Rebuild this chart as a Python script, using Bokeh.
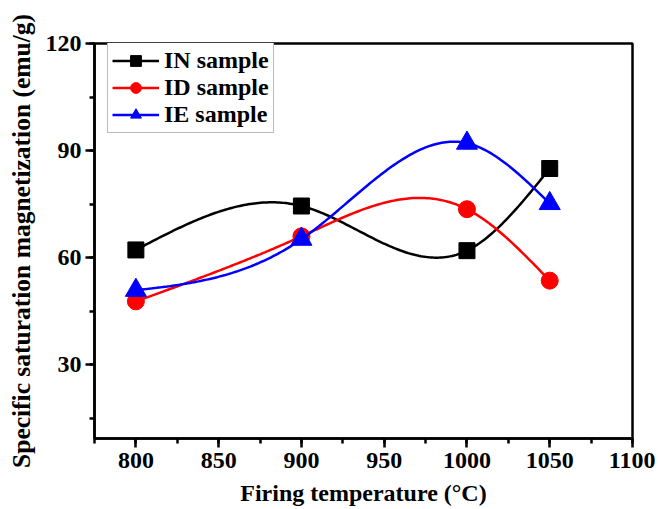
import numpy as np
from bokeh.plotting import figure
from bokeh.models import SingleIntervalTicker, Range1d
from bokeh.embed import file_html
from bokeh.resources import INLINE

# Data
temps = [800, 900, 1000, 1050]
in_sample = [62.2, 74.5, 62.0, 85.0]
id_sample = [47.8, 66.0, 73.6, 53.6]
ie_sample = [50.9, 65.2, 92.1, 75.2]
series_names = ["IN sample", "ID sample", "IE sample"]
series_colors = ["black", "red", "blue"]
series_markers = ["square", "circle", "triangle"]
marker_sizes = [16, 17, 21]


def natural_spline(x, y, n=200):
    x = np.asarray(x, float)
    y = np.asarray(y, float)
    k = len(x)
    h = np.diff(x)
    A = np.zeros((k, k))
    b = np.zeros(k)
    A[0, 0] = 1
    A[-1, -1] = 1
    for i in range(1, k - 1):
        A[i, i - 1] = h[i - 1]
        A[i, i] = 2 * (h[i - 1] + h[i])
        A[i, i + 1] = h[i]
        b[i] = 6 * ((y[i + 1] - y[i]) / h[i] - (y[i] - y[i - 1]) / h[i - 1])
    M = np.linalg.solve(A, b)
    xs = np.linspace(x[0], x[-1], n)
    ys = np.empty_like(xs)
    for j, xv in enumerate(xs):
        i = min(np.searchsorted(x, xv, side="right") - 1, k - 2)
        t1 = x[i + 1] - xv
        t0 = xv - x[i]
        ys[j] = (M[i] * t1 ** 3 / (6 * h[i]) + M[i + 1] * t0 ** 3 / (6 * h[i])
                 + (y[i] / h[i] - M[i] * h[i] / 6) * t1
                 + (y[i + 1] / h[i] - M[i + 1] * h[i] / 6) * t0)
    return xs, ys


FONT = "Liberation Serif"

W, H = 655, 508
p = figure(width=W, height=H, output_backend="svg", toolbar_location=None,
           x_range=Range1d(775, 1100), y_range=Range1d(9.4, 120),
           min_border_left=94, min_border_right=W - 632, min_border_top=43,
           min_border_bottom=H - 441)
p.xgrid.visible = False
p.ygrid.visible = False
p.outline_line_color = "black"
p.outline_line_width = 2.5
p.outline_line_alpha = 1.0

for vals, name, col, mk, ms in zip([in_sample, id_sample, ie_sample], series_names,
                                    series_colors, series_markers, marker_sizes):
    xs, ys = natural_spline(temps, vals)
    p.line(xs, ys, line_color=col, line_width=2.5, legend_label=name)
    p.scatter(temps, vals, marker=mk, size=ms, fill_color=col, line_color=col,
              legend_label=name)

p.xaxis.ticker = SingleIntervalTicker(interval=50, num_minor_ticks=2)
p.yaxis.ticker = SingleIntervalTicker(interval=30, num_minor_ticks=2)
for ax in (p.xaxis, p.yaxis):
    ax.axis_line_width = 2.5
    ax.major_tick_line_width = 2.5
    ax.minor_tick_line_width = 2.5
    ax.major_tick_in = 0
    ax.minor_tick_in = 0
    ax.major_tick_out = 9
    ax.minor_tick_out = 5
    ax.major_label_text_font = FONT
    ax.major_label_text_font_style = "bold"
    ax.major_label_text_font_size = "24px"
    ax.major_label_text_color = "black"
    ax.axis_label_text_font = FONT
    ax.axis_label_text_font_style = "bold"
    ax.axis_label_text_font_size = "24px"
    ax.axis_label_text_color = "black"
p.yaxis.axis_label_text_font_size = "25.5px"
p.xaxis.major_label_standoff = 5
p.yaxis.major_label_standoff = 4
p.xaxis.axis_label = "Firing temperature (°C)"
p.yaxis.axis_label = "Specific saturation magnetization (emu/g)"
p.xaxis.axis_label_standoff = 9
p.yaxis.axis_label_standoff = 7

leg = p.legend[0]
leg.location = (13, 305)
leg.border_line_color = "#777777"
leg.border_line_width = 1
leg.background_fill_color = "white"
leg.background_fill_alpha = 1
leg.padding = 4
leg.spacing = 0
leg.glyph_width = 47
leg.glyph_height = 27
leg.label_height = 27
leg.label_standoff = 5
leg.margin = 0
leg.label_text_font = FONT
leg.label_text_font_style = "bold"
leg.label_text_font_size = "24px"
leg.label_text_color = "black"

open("out.html", "w").write(file_html(p, INLINE))
